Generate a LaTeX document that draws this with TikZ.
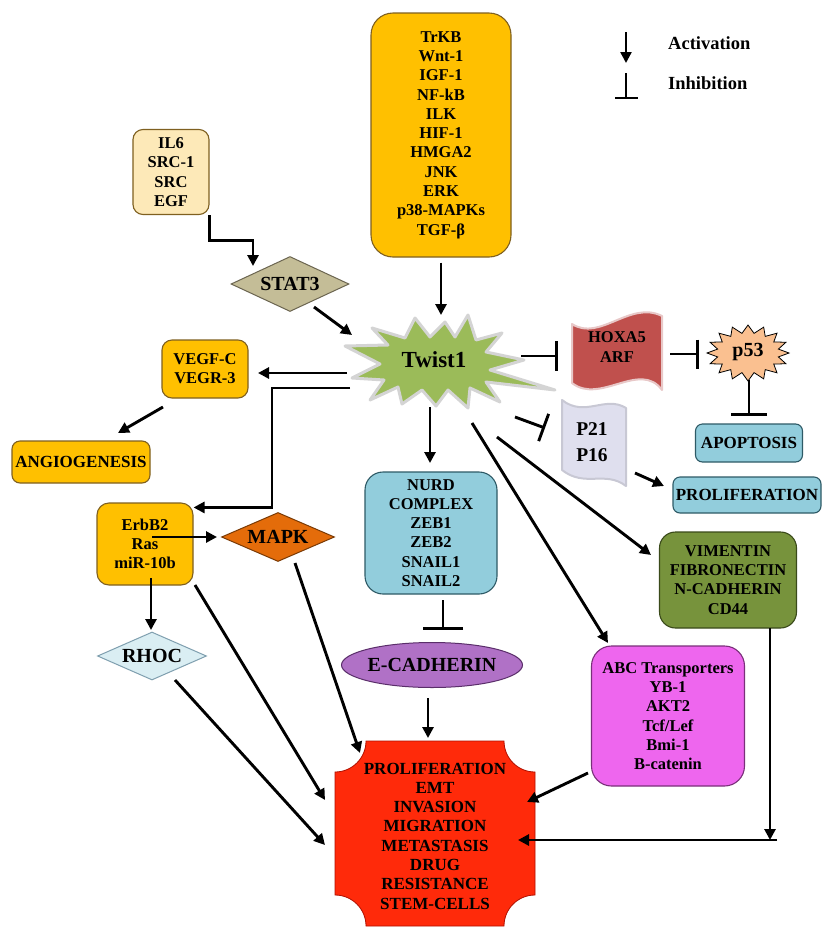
\documentclass[tikz,border=0pt]{standalone}
\usepackage{fontspec}
\setmainfont{Liberation Serif}
\usetikzlibrary{arrows.meta,shapes.geometric,calc}
\definecolor{orangeY}{HTML}{FFC000}
\definecolor{brownln}{HTML}{7F6020}
\definecolor{il6c}{HTML}{FDE9B8}
\definecolor{stat3c}{HTML}{C4BD97}
\definecolor{stat3ln}{HTML}{6B6550}
\definecolor{twistc}{HTML}{9BBB59}
\definecolor{twistln}{HTML}{D4D4D4}
\definecolor{hoxac}{HTML}{C0504D}
\definecolor{hoxaln}{HTML}{E8C8C8}
\definecolor{p53c}{HTML}{FAC090}
\definecolor{p21c}{HTML}{DFDFEE}
\definecolor{p21ln}{HTML}{C8C8D4}
\definecolor{bluec}{HTML}{92CDDC}
\definecolor{blueln}{HTML}{2E5A66}
\definecolor{ecadc}{HTML}{B071C6}
\definecolor{ecadln}{HTML}{5A2E6A}
\definecolor{vimc}{HTML}{77933C}
\definecolor{vimln}{HTML}{3A4A1A}
\definecolor{abcc}{HTML}{EE66EE}
\definecolor{abcln}{HTML}{7A307A}
\definecolor{mapkc}{HTML}{E46C0A}
\definecolor{mapkln}{HTML}{7A3A05}
\definecolor{rhocc}{HTML}{DAEEF3}
\definecolor{rhocln}{HTML}{7F9FAF}
\definecolor{octc}{HTML}{FF2A0A}
\definecolor{octln}{HTML}{B01000}
\newcommand{\ftext}{\fontsize{16.5}{19.3}\selectfont\bfseries}
\newcommand{\fmid}{\fontsize{17}{19.3}\selectfont\bfseries}
\newcommand{\fbig}{\fontsize{20}{24}\selectfont\bfseries}
\newcommand{\fpbig}{\fontsize{19.5}{26.5}\selectfont\bfseries}
\newcommand{\ftw}{\fontsize{23}{26}\selectfont\bfseries}
\newcommand{\fleg}{\fontsize{18.5}{22}\selectfont\bfseries}
\begin{document}
\begin{tikzpicture}[x=1pt,y=-1pt,
  rbox/.style={rectangle, rounded corners=12pt, draw=brownln, line width=1.1pt, align=center, inner sep=0pt, font=\ftext},
  dia/.style={diamond, line width=1pt, inner sep=0pt, font=\fbig},
  act/.style={line width=2.9pt, -{Triangle[length=11pt,width=11pt]}},
  inh/.style={line width=2.9pt, -{Bar[width=#1]}},
  inh/.default=30pt,
  lbl/.style={align=center, inner sep=0pt, font=\ftext}]
\useasboundingbox (0,0) rectangle (823,927);
\fill[white] (0,0) rectangle (823,927);

% legend
\coordinate (la1) at (626,32);
\coordinate (la2) at (626,63);
\draw[act, line width=2.4pt] (la1) -- (la2);
\coordinate (li1) at (626,73);
\coordinate (li2) at (626,99);
\draw[inh=23pt, line width=2.4pt] (li1) -- (li2);
\node[font=\fleg, anchor=west, inner sep=0pt] (lact) at (668,43) {Activation};
\node[font=\fleg, anchor=west, inner sep=0pt] (linh) at (668,83) {Inhibition};

% nodes
\node[rbox, fill=orangeY, minimum width=140pt, minimum height=244pt, rounded corners=22pt] (top) at (441,135) {TrKB\\Wnt-1\\IGF-1\\NF-kB\\ILK\\HIF-1\\HMGA2\\JNK\\ERK\\p38-MAPKs\\TGF-β};
\node[rbox, fill=il6c, minimum width=76pt, minimum height=85pt, rounded corners=10pt] (il6) at (171,172) {IL6\\SRC-1\\SRC\\EGF};
\node[dia, fill=stat3c, draw=stat3ln, minimum width=118pt, minimum height=55pt] (stat3) at (290,284) {\makebox[0pt]{STAT3}};

\filldraw[fill=twistc, draw=twistln, line width=3pt, line join=round]
 (345,346) -- (388,345) -- (372,328) -- (405,338) -- (415,318) -- (430,337) -- (445,322) -- (455,337)
 -- (468,315) -- (476,340) -- (502,333) -- (486,352) -- (524,360) -- (490,370) -- (555,390) -- (486,382)
 -- (500,402) -- (470,388) -- (468,408) -- (448,390) -- (436,406) -- (422,390) -- (402,404) -- (398,387)
 -- (370,400) -- (384,380) -- (352,378) -- (380,364) -- cycle;
\node[font=\ftw, inner sep=0pt, minimum width=150pt, minimum height=70pt] (twist) at (434,360) {Twist1};

\node[rbox, fill=orangeY, minimum width=86pt, minimum height=58pt, rounded corners=10pt] (vegf) at (205,369) {VEGF-C\\VEGR-3};
\node[rbox, fill=orangeY, minimum width=138pt, minimum height=42pt, rounded corners=8pt, font=\fmid] (angio) at (81,462) {ANGIOGENESIS};
\node[rbox, fill=orangeY, minimum width=96pt, minimum height=82pt, rounded corners=12pt] (erbb2) at (145,544) {ErbB2\\Ras\\miR-10b};
\node[dia, fill=mapkc, draw=mapkln, minimum width=113pt, minimum height=49pt] (mapk) at (278,537) {\makebox[0pt]{MAPK}};
\node[dia, fill=rhocc, draw=rhocln, minimum width=109pt, minimum height=48pt] (rhoc) at (152,656) {\makebox[0pt]{RHOC}};
\node[rbox, fill=bluec, draw=blueln, minimum width=132pt, minimum height=122pt, rounded corners=18pt] (nurd) at (431,533) {NURD\\COMPLEX\\ZEB1\\ZEB2\\SNAIL1\\SNAIL2};
\node[ellipse, fill=ecadc, draw=ecadln, line width=1pt, minimum width=181pt, minimum height=45pt, inner sep=0pt, font=\fbig] (ecad) at (432,665) {\makebox[0pt]{E-CADHERIN}};

\filldraw[fill=hoxac, draw=hoxaln, line width=2pt, line join=round]
 (572,324) .. controls (600,342) and (630,300) .. (662,316) -- (662,390)
 .. controls (640,360) and (600,405) .. (572,383) -- cycle;
\node[lbl, minimum width=92pt, minimum height=70pt] (hoxa) at (617,347) {HOXA5\\ARF};

\filldraw[fill=p53c, draw=black, line width=0.8pt, line join=miter]
 plot[samples at={0,...,32}] ({748+(41-10*mod(\x,2))*cos(\x*11.25)}, {353+(28-8*mod(\x,2))*sin(\x*11.25)}) -- cycle;
\node[font=\fbig, inner sep=0pt, minimum width=80pt, minimum height=53pt] (p53) at (748,352) {p53};

\node[rbox, fill=bluec, draw=blueln, minimum width=107pt, minimum height=38pt, rounded corners=7pt, font=\fmid] (apop) at (749,443) {APOPTOSIS};

\filldraw[fill=p21c, draw=p21ln, line width=2pt, line join=round]
 (562,400) .. controls (585,418) and (605,395) .. (626,408) -- (626,486)
 .. controls (605,470) and (585,488) .. (562,470) -- cycle;
\node[lbl, font=\fpbig, minimum width=64pt, minimum height=85pt] (p21) at (592,442) {P21\\P16};

\node[rbox, fill=bluec, draw=blueln, minimum width=148pt, minimum height=36pt, rounded corners=7pt, font=\fmid] (prolif) at (747,495) {PROLIFERATION};
\node[rbox, fill=vimc, draw=vimln, minimum width=137pt, minimum height=96pt, rounded corners=16pt] (vim) at (728,580) {VIMENTIN\\FIBRONECTIN\\N-CADHERIN\\CD44};
\node[rbox, fill=abcc, draw=abcln, minimum width=153pt, minimum height=140pt, rounded corners=20pt] (abc) at (668,716) {ABC Transporters\\YB-1\\AKT2\\Tcf/Lef\\Bmi-1\\B-catenin};

\filldraw[fill=octc, draw=octln, line width=0.8pt]
 (366,741) -- (504,741) arc[start angle=180, end angle=90, radius=31]
 -- (535,895) arc[start angle=270, end angle=180, radius=31]
 -- (366,926) arc[start angle=360, end angle=270, radius=31]
 -- (335,772) arc[start angle=90, end angle=0, radius=31] -- cycle;
\node[lbl, font=\fmid, minimum width=200pt, minimum height=186pt] (oct) at (435,836) {PROLIFERATION\\EMT\\INVASION\\MIGRATION\\METASTASIS\\DRUG\\RESISTANCE\\STEM-CELLS};

% connectors
\draw[act] (il6.south east) -- ++(0,25) -| ([shift={(-37,10)}]stat3.north);
\draw[act] ([shift={(24,23)}]stat3.center) -- ([shift={(-82,-25)}]twist.center);
\draw[act] ([shift={(0,5)}]top.south) -- ([shift={(7,-45)}]twist.center);
\draw[inh] ([shift={(87,-4)}]twist.center) -- ([shift={(-59,9)}]hoxa.center);
\draw[inh=29pt] ([shift={(53,7)}]hoxa.center) -- ([shift={(-49,2)}]p53.center);
\draw[inh=36pt] ([shift={(1,28)}]p53.center) -- ([shift={(0,-27)}]apop.center);
\draw[inh=29pt] ([shift={(81,57)}]twist.center) -- ([shift={(-47,-14)}]p21.center);
\draw[act] ([shift={(43,31)}]p21.center) -- ([shift={(-83,-9)}]prolif.center);
\draw[act] ([shift={(-87,13)}]twist.center) -- ([shift={(53,4)}]vegf.center);
\draw[act] ([shift={(-84,28)}]twist.center) -- ++(-78,0) |- ([shift={(0,5)}]erbb2.north east);
\draw[act] ([shift={(-42,38)}]vegf.center) -- ([shift={(37,-29)}]angio.center);
\draw[act] ([shift={(-4,47)}]twist.center) -- ([shift={(-1,-70)}]nurd.center);
\draw[act] ([shift={(38,63)}]twist.center) -- ([shift={(-60,-73)}]abc.center);
\draw[act] ([shift={(63,77)}]twist.center) -- ([shift={(-77,-25)}]vim.center);
\draw[inh=40pt] ([shift={(12,67)}]nurd.center) -- ([shift={(11,-35)}]ecad.center);
\draw[act] ([shift={(-4,33)}]ecad.center) -- ([shift={(-7,-98)}]oct.center);
\draw[act] ([shift={(7,-7)}]erbb2.center) -- ([shift={(-61,0)}]mapk.center);
\draw[act] ([shift={(6,34)}]erbb2.center) -- ([shift={(-1,-26)}]rhoc.center);
\draw[act] ([shift={(23,24)}]rhoc.center) -- ([shift={(-110,9)}]oct.center);
\draw[act] ([shift={(50,41)}]erbb2.center) -- ([shift={(-110,-36)}]oct.center);
\draw[act] ([shift={(17,26)}]mapk.center) -- ([shift={(-75,-83)}]oct.center);
\draw[act] ([shift={(-80,57)}]abc.center) -- ([shift={(92,-34)}]oct.center);
\coordinate (vcorner) at (770,840);
\draw[act] ([shift={(42,48)}]vim.center) -- (vcorner);
\draw[act] ([shift={(7,0)}]vcorner) -- ([shift={(83,4)}]oct.center);
\end{tikzpicture}
\end{document}
